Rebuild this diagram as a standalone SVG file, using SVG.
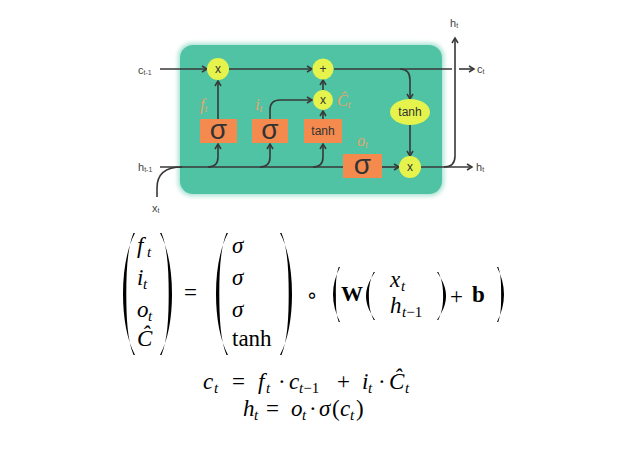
<svg xmlns="http://www.w3.org/2000/svg" width="624" height="451" viewBox="0 0 624 451">
<style>
.ln{fill:none;stroke:#383838;stroke-width:1.6}
.ar{marker-end:url(#ah)}
.yc{fill:#e6f34c}
.ob{fill:#f58a4e}
.op{font-family:"Liberation Sans",Arial,sans-serif;font-size:12px;fill:#333;text-anchor:middle}
.sg{font-family:"Liberation Sans",Arial,sans-serif;font-size:28px;fill:#333;text-anchor:middle}
.lb{font-family:"Liberation Sans",Arial,sans-serif;font-size:11px;fill:#444}
.lbs{font-size:7px}
.gl{font-family:"Liberation Serif",serif;font-style:italic;font-size:16px;fill:#e6a56a}
.gls{font-size:10px}
.m{font-family:"Liberation Serif",serif;font-style:italic;font-size:23px;fill:#000}
.r{font-style:normal}
.bd{font-style:normal;font-weight:bold}
.s{font-size:15px}
.pr{fill:#000}
</style>
<defs>
<marker id="ah" markerWidth="8" markerHeight="8" refX="6" refY="4" orient="auto" markerUnits="userSpaceOnUse">
<path d="M1,1 L6,4 L1,7" fill="none" stroke="#383838" stroke-width="1.5"/>
</marker>
<filter id="glow" x="-10%" y="-10%" width="120%" height="120%">
<feGaussianBlur stdDeviation="2"/>
</filter>
</defs>

<g id="cell">
<rect x="178" y="43" width="266" height="153" rx="14" fill="#a8e2d2" filter="url(#glow)"/>
<rect x="180" y="45" width="262" height="149" rx="13" fill="#4fc3a4"/>
</g>

<g id="connectors">
<path class="ln ar" d="M160,69 L207,69"/>
<path class="ln ar" d="M229,69 L312,69"/>
<path class="ln" d="M334,69 L452,69"/>
<path class="ln ar" d="M459,69 L474,69"/>
<path class="ln ar" d="M400,69 Q410,69 410,80 L410,99"/>
<path class="ln" d="M160,167 L343,167"/>
<path class="ln" d="M157,197 L157,188 Q157,167 182,167"/>
<path class="ln ar" d="M208,167 Q218,167 218,157 L218,144"/>
<path class="ln ar" d="M260,167 Q270,167 270,157 L270,144"/>
<path class="ln ar" d="M313,167 Q323,167 323,157 L323,144"/>
<path class="ln ar" d="M218,119 L218,81"/>
<path class="ln ar" d="M270,119 L270,110 Q270,100 280,100 L312,100"/>
<path class="ln ar" d="M323,119 L323,111"/>
<path class="ln ar" d="M323,90 L323,80"/>
<path class="ln ar" d="M410,125 L410,156"/>
<path class="ln ar" d="M382,167 L399,167"/>
<path class="ln ar" d="M421,167 L472,167"/>
<path class="ln ar" d="M444,167 Q455,167 455,156 L455,38"/>
</g>

<g id="mul-forget"><circle class="yc" cx="218" cy="69" r="11"/><text class="op" x="218" y="73">x</text></g>
<g id="add-cell"><circle class="yc" cx="323" cy="69" r="10.5"/><text class="op" x="323" y="73">+</text></g>
<g id="mul-input"><circle class="yc" cx="323" cy="100" r="10"/><text class="op" x="323" y="104">x</text></g>
<g id="tanh-out"><ellipse class="yc" cx="410" cy="112" rx="20" ry="13"/><text class="op" x="410" y="116">tanh</text></g>
<g id="mul-output"><circle class="yc" cx="410" cy="167" r="11"/><text class="op" x="410" y="171">x</text></g>

<g id="sigma-f"><rect class="ob" x="200" y="119" width="37" height="24"/><text class="sg" x="218.5" y="139">σ</text></g>
<g id="sigma-i"><rect class="ob" x="252" y="119" width="36" height="24"/><text class="sg" x="270" y="139">σ</text></g>
<g id="tanh-c"><rect class="ob" x="304" y="119" width="38" height="24"/><text class="op" x="323" y="135">tanh</text></g>
<g id="sigma-o"><rect class="ob" x="343" y="154" width="39" height="24"/><text class="sg" x="362.5" y="174">σ</text></g>

<g id="gate-labels">
<text class="gl" x="200" y="110">f<tspan class="gls" dy="2">t</tspan></text>
<text class="gl" x="255" y="110">i<tspan class="gls" dy="2">t</tspan></text>
<text class="gl" x="337" y="106">Ĉ<tspan class="gls" dy="2">t</tspan></text>
<text class="gl" x="357" y="146">o<tspan class="gls" dy="2">t</tspan></text>
</g>

<g id="io-labels">
<text class="lb" x="138" y="74">c<tspan class="lbs" dy="1">t-1</tspan></text>
<text class="lb" x="138" y="171">h<tspan class="lbs" dy="1">t-1</tspan></text>
<text class="lb" x="152" y="212">x<tspan class="lbs" dy="1">t</tspan></text>
<text class="lb" x="450" y="27">h<tspan class="lbs" dy="1">t</tspan></text>
<text class="lb" x="477" y="73">c<tspan class="lbs" dy="1">t</tspan></text>
<text class="lb" x="476" y="171">h<tspan class="lbs" dy="1">t</tspan></text>
</g>

<g id="equations">
<path class="pr" d="M135,233 C127,248 123,270 123,294 C123,318 127,340 135,355 L133.5,355 C127.5,340 126.3,318 126.3,294 C126.3,270 127.5,248 133.5,233 Z"/>
<path class="pr" d="M160,233 C168,248 172,270 172,294 C172,318 168,340 160,355 L161.5,355 C167.5,340 168.7,318 168.7,294 C168.7,270 167.5,248 161.5,233 Z"/>
<path class="pr" d="M228,233 C220,248 216,270 216,294 C216,318 220,340 228,355 L226.5,355 C220.5,340 219.3,318 219.3,294 C219.3,270 220.5,248 226.5,233 Z"/>
<path class="pr" d="M280,233 C288,248 292,270 292,294 C292,318 288,340 280,355 L281.5,355 C287.5,340 288.7,318 288.7,294 C288.7,270 287.5,248 281.5,233 Z"/>
<path class="pr" d="M340,267 C335.5,276 333,285 333,294.5 C333,304 335.5,313 340,322 L338.7,322 C335.7,313 335.9,304 335.9,294.5 C335.9,285 335.7,276 338.7,267 Z"/>
<path class="pr" d="M497,267 C501.5,276 504,285 504,294.5 C504,304 501.5,313 497,322 L498.3,322 C501.3,313 501.1,304 501.1,294.5 C501.1,285 501.3,276 498.3,267 Z"/>
<path class="pr" d="M375,272 C369,281 366,288 366,296 C366,304 369,311 375,320 L373.7,320 C369.5,311 368.9,304 368.9,296 C368.9,288 369.5,281 373.7,272 Z"/>
<path class="pr" d="M437,272 C443,281 446,288 446,296 C446,304 443,311 437,320 L438.3,320 C442.5,311 443.1,304 443.1,296 C443.1,288 442.5,281 438.3,272 Z"/>

<text class="m" x="137" y="253">f<tspan class="s" x="147" dy="4">t</tspan></text>
<text class="m" x="137" y="285">i<tspan class="s" x="143" dy="4">t</tspan></text>
<text class="m" x="137" y="317">o<tspan class="s" x="148" dy="4">t</tspan></text>
<text class="m" x="137" y="346">Ĉ</text>
<text class="m r" x="184" y="300">=</text>
<text class="m" x="232" y="253">σ</text>
<text class="m" x="232" y="285">σ</text>
<text class="m" x="232" y="317">σ</text>
<text class="m r" x="232" y="346">tanh</text>
<text class="m r" x="312" y="302" style="font-family:'DejaVu Sans',sans-serif;font-size:20px;text-anchor:middle">∘</text>
<text class="m bd" x="341" y="301" style="font-size:22px">W</text>
<text class="m" x="390" y="287">x<tspan class="s" x="401" dy="4">t</tspan></text>
<text class="m" x="390" y="313">h<tspan class="s" x="402" dy="4">t</tspan><tspan class="s r">−1</tspan></text>
<text class="m r" x="450" y="304">+</text>
<text class="m bd" x="472" y="302">b</text>

<text class="m" x="203" y="389">c<tspan class="s" x="214" dy="4">t</tspan><tspan class="r" x="232" dy="-4">=</tspan><tspan x="258">f</tspan><tspan class="s" x="266" dy="4">t</tspan><tspan class="r" x="278" dy="-4">·</tspan><tspan x="289">c</tspan><tspan class="s" x="299" dy="4">t</tspan><tspan class="s r">−1</tspan><tspan class="r" x="337" dy="-4">+</tspan><tspan x="362">i</tspan><tspan class="s" x="368" dy="4">t</tspan><tspan class="r" x="378" dy="-4">·</tspan><tspan x="389">Ĉ</tspan><tspan class="s" x="405" dy="4">t</tspan></text>
<text class="m" x="243" y="416">h<tspan class="s" x="254" dy="4">t</tspan><tspan class="r" x="266" dy="-4">=</tspan><tspan x="291">o</tspan><tspan class="s" x="302" dy="4">t</tspan><tspan class="r" x="309" dy="-4">·</tspan><tspan x="319">σ</tspan><tspan class="r" x="332">(</tspan><tspan x="340">c</tspan><tspan class="s" x="350" dy="4">t</tspan><tspan class="r" x="356" dy="-4">)</tspan></text>
</g>
</svg>
